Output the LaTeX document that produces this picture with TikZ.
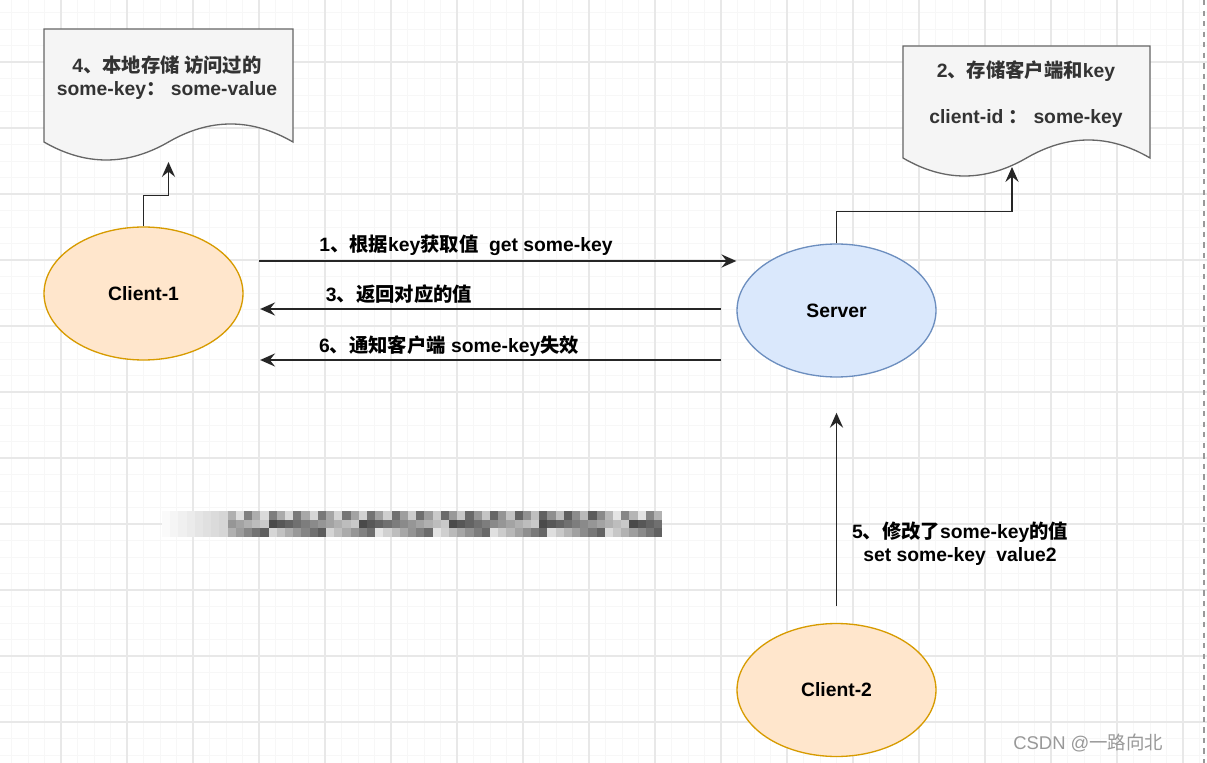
\documentclass[tikz,border=0pt]{standalone}
\usepackage{fontspec}
\setmainfont{Liberation Sans}
\newfontfamily\cjk{Noto Sans CJK SC}
\newcommand{\zh}[1]{{\cjk #1}}
\usetikzlibrary{shapes.geometric,arrows.meta}
\definecolor{clientfill}{HTML}{FFE6CC}
\definecolor{clientline}{HTML}{D79B00}
\definecolor{serverfill}{HTML}{DAE8FC}
\definecolor{serverline}{HTML}{6C8EBF}
\definecolor{docfill}{HTML}{F5F5F5}
\definecolor{docline}{HTML}{666666}
\definecolor{doctext}{HTML}{333333}
\tikzset{
  client/.style={ellipse, draw=clientline, fill=clientfill, line width=0.75pt,
    minimum width=3.98cm, minimum height=2.66cm, font=\fontsize{11}{13}\selectfont\bfseries},
  server/.style={client, draw=serverline, fill=serverfill},
  msg/.style={font=\fontsize{11}{13}\selectfont\bfseries, align=center, inner sep=0pt},
  flow/.style={draw=black!85, line width=0.9pt, -{Stealth[length=8.5pt,width=7.5pt,inset=3pt]}},
  docpaper/.style={draw=docline, fill=docfill, line width=0.75pt},
}
\begin{document}
\begin{tikzpicture}[x=0.02cm, y=-0.02cm]
  \fill[white] (0,0) rectangle (1207,763);
  \useasboundingbox (0,0) rectangle (1207,763);
  % grid
  \foreach \x in {-5,11.5,...,1207} \draw[black!3, line width=0.5pt] (\x,0) -- (\x,763);
  \foreach \y in {-4,12.5,...,763} \draw[black!3, line width=0.5pt] (0,\y) -- (1207,\y);
  \foreach \x in {-5,61,...,1207} \draw[black!9, line width=0.6pt] (\x,0) -- (\x,763);
  \foreach \y in {-4,62,...,763} \draw[black!9, line width=0.6pt] (0,\y) -- (1207,\y);
  \draw[black!40, dashed, line width=0.6pt] (1204,0) -- (1204,763);

  % blurred area
  \foreach \i in {0,...,60}
    \foreach \j in {0,1,2} {
      \pgfmathtruncatemacro{\g}{\i<8 ? 2+2*\i : mod(\i*37+\j*61+\i*\j*13,55)+10+10*(\j==1)}
      \fill[black!\g] (162+8.2*\i,511+8.5*\j) rectangle ++(8.2,8.5);
    }

  % nodes
  \node[client] (client1) at (143.5,293.5) {Client-1};
  \node[server] (server) at (836.5,310.5) {Server};
  \node[client] (client2) at (836.5,690) {Client-2};

  % local store
  \draw[docpaper] (44,29) -- (293,29) -- (293,142)
    .. controls (251.5,118) and (210,118) .. (168.5,142)
    .. controls (127,166) and (85.5,166) .. (44,142) -- cycle;
  \node[msg, text=doctext] (store1) at (167,77.5) {4\zh{、本地存储 访问过的}\\some-key\zh{：} some-value};
  \coordinate (store1 foot) at (168.5,162);

  % server store
  \draw[docpaper] (903,46) -- (1150,46) -- (1150,158)
    .. controls (1109,134) and (1068,134) .. (1026.5,158)
    .. controls (985,182) and (944,182) .. (903,158) -- cycle;
  \node[msg, text=doctext] (store2) at (1026,94) {2\zh{、存储客户端和}key\\[13pt]client-id \zh{：} some-key};
  \coordinate (store2 foot) at (1012,167);

  % rows of the messages
  \coordinate (ask) at (0,261);
  \coordinate (reply) at (0,309);
  \coordinate (notify) at (0,360);

  \draw[flow] (client1.north) -- ++(0,-31) -| (store1 foot);
  \draw[flow] (server.north) -- ++(0,-32) -| (store2 foot);
  \draw[flow, shorten <=8.8pt] (client1.east |- ask) -- (server.west |- ask);
  \draw[flow, shorten <=8.8pt, shorten >=9.4pt] (server.west |- reply) -- (client1.east |- reply);
  \draw[flow, shorten <=8.8pt, shorten >=9.4pt] (server.west |- notify) -- (client1.east |- notify);
  \draw[flow, shorten <=9.4pt, shorten >=20pt] (client2.north) -- (server.south);

  % labels
  \node[msg] (lbl1) at (466,245) {1\zh{、根据}key\zh{获取值}~~get some-key};
  \node[msg] (lbl3) at (399,294) {3\zh{、返回对应的值}};
  \node[msg] (lbl6) at (449,346) {6\zh{、通知客户端} some-key\zh{失效}};
  \node[msg] (lbl5) at (960,543.5) {5\zh{、修改了}some-key\zh{的值}\\set some-key~~value2};

  \node[font=\fontsize{10.5}{12}\selectfont, text=black!40, anchor=west, inner sep=0pt] (mark) at (1013,743) {CSDN @\zh{一路向北}};
\end{tikzpicture}
\end{document}
